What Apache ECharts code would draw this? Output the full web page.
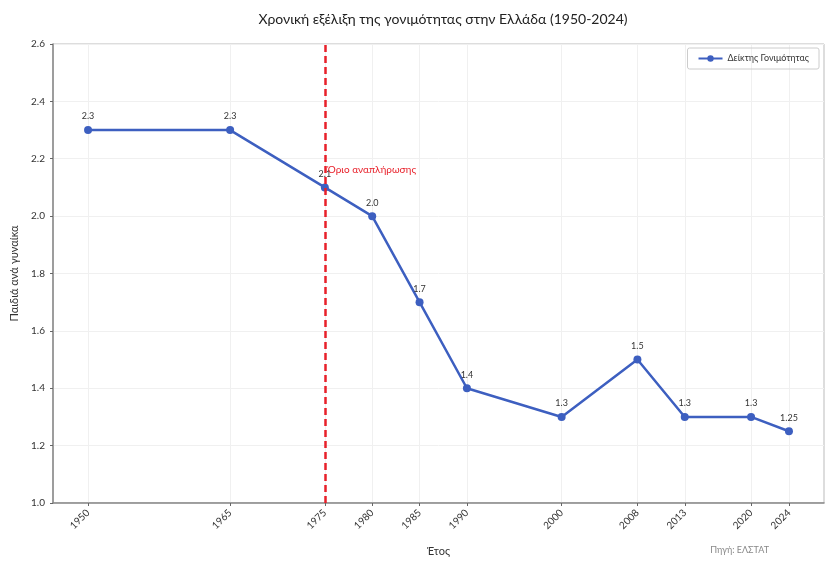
<!DOCTYPE html>
<html>
<head>
<meta charset="utf-8">
<title>Γονιμότητα στην Ελλάδα</title>
<script src="https://cdn.jsdelivr.net/npm/echarts@6/dist/echarts.min.js"></script>
<style>
  html, body { margin: 0; padding: 0; background: #fff; }
  #chart { width: 826px; height: 563px; }
</style>
</head>
<body>
<div id="chart"></div>
<script>
// δεδομένα
const years = [1950, 1965, 1975, 1980, 1985, 1990, 2000, 2008, 2013, 2020, 2024];
const fertility = [2.3, 2.3, 2.1, 2.0, 1.7, 1.4, 1.3, 1.5, 1.3, 1.3, 1.25];
const valueLabels = ['2.3', '2.3', '2.1', '2.0', '1.7', '1.4', '1.3', '1.5', '1.3', '1.3', '1.25'];
const replacementYear = 1975;
const replacementText = 'Όριο αναπλήρωσης';

const font = 'Lato, "Noto Sans", sans-serif';
const chart = echarts.init(document.getElementById('chart'));

chart.setOption({
  animation: false,
  textStyle: { fontFamily: font },
  title: {
    text: 'Χρονική εξέλιξη της γονιμότητας στην Ελλάδα (1950-2024)',
    left: 438, textAlign: 'center', top: 7,
    textStyle: { fontSize: 14, fontWeight: 'normal', color: '#222', fontFamily: font }
  },
  legend: {
    right: 7, top: 48,
    borderColor: '#ccc', borderWidth: 1, borderRadius: 2,
    padding: [6, 10],
    itemWidth: 24, itemHeight: 8,
    textStyle: { fontSize: 9, color: '#333', fontFamily: font }
  },
  grid: { left: 53, right: 2, top: 44, bottom: 60, show: true, borderColor: '#bbb', borderWidth: 1 },
  xAxis: {
    type: 'value',
    min: 1946.3, max: 2027.7,
    name: 'Έτος', nameLocation: 'middle', nameGap: 43,
    nameTextStyle: { fontSize: 11, color: '#333' },
    axisLine: { onZero: false, lineStyle: { color: '#888', width: 1.5 } },
    axisTick: { show: true, length: 3, customValues: years, lineStyle: { color: '#666' } },
    axisLabel: { customValues: years, rotate: 45, fontSize: 10, color: '#333', margin: 8, formatter: v => String(v) },
    splitLine: { show: true, lineStyle: { color: '#f0f0f0', width: 1 } }
  },
  yAxis: {
    type: 'value',
    min: 1.0, max: 2.6, interval: 0.2,
    name: 'Παιδιά ανά γυναίκα', nameLocation: 'middle', nameGap: 33,
    nameTextStyle: { fontSize: 11, color: '#333' },
    axisLine: { show: true, lineStyle: { color: '#888', width: 1.5 } },
    axisTick: { show: true, length: 3, lineStyle: { color: '#666' } },
    axisLabel: { fontSize: 10, color: '#333', formatter: v => v.toFixed(1) },
    splitLine: { show: true, lineStyle: { color: '#f0f0f0', width: 1 } }
  },
  series: [{
    name: 'Δείκτης Γονιμότητας',
    type: 'line',
    data: years.map((y, i) => [y, fertility[i]]),
    symbol: 'circle', symbolSize: 8,
    itemStyle: { color: '#3d5fc0' },
    lineStyle: { color: '#3d5fc0', width: 2.5 },
    label: {
      show: true, position: 'top', distance: 5,
      fontSize: 9, color: '#333',
      formatter: p => valueLabels[p.dataIndex]
    },
    markLine: {
      silent: true, symbol: 'none',
      lineStyle: { color: '#e8202a', type: [7, 4], width: 2.5 },
      label: { show: false },
      data: [{ xAxis: replacementYear }]
    },
    markPoint: {
      symbol: 'circle', symbolSize: 0,
      label: { show: true, position: 'right', distance: 3, fontSize: 10, color: '#e8202a', formatter: replacementText },
      data: [{ coord: [replacementYear, 2.16] }]
    },
    z: 3
  }],
  graphic: [{
    type: 'text', right: 57, top: 546,
    style: { text: 'Πηγή: ΕΛΣΤΑΤ', fontSize: 9, fill: '#888', fontFamily: font }
  }]
});
</script>
</body>
</html>
